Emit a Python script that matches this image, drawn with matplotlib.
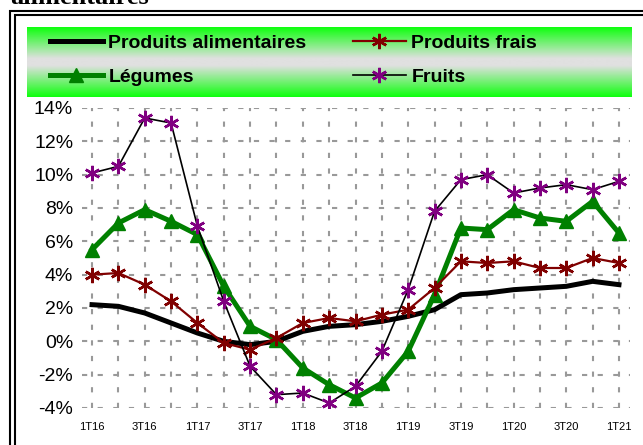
import numpy as np
import matplotlib
matplotlib.use('Agg')
import matplotlib.pyplot as plt
from matplotlib.colors import LinearSegmentedColormap
from matplotlib.patches import Rectangle
from matplotlib.ticker import FuncFormatter

#%% data (year-on-year change, %)
quarters = ['1T16', '2T16', '3T16', '4T16', '1T17', '2T17', '3T17', '4T17',
            '1T18', '2T18', '3T18', '4T18', '1T19', '2T19', '3T19', '4T19',
            '1T20', '2T20', '3T20', '4T20', '1T21']
alimentaires = [2.2, 2.1, 1.7, 1.1, 0.5, 0.0, -0.2, 0.0, 0.6, 0.9, 1.0,
                1.2, 1.5, 1.9, 2.8, 2.9, 3.1, 3.2, 3.3, 3.6, 3.4]
frais = [4.0, 4.1, 3.4, 2.4, 1.1, -0.1, -0.5, 0.2, 1.1, 1.4, 1.2,
         1.6, 1.9, 3.2, 4.8, 4.7, 4.8, 4.4, 4.4, 5.0, 4.7]
legumes = [5.5, 7.1, 7.9, 7.2, 6.4, 3.3, 0.9, 0.1, -1.6, -2.6, -3.4,
           -2.5, -0.6, 2.8, 6.8, 6.7, 7.9, 7.4, 7.2, 8.4, 6.5]
fruits = [10.1, 10.5, 13.4, 13.1, 6.9, 2.4, -1.5, -3.2, -3.1, -3.7, -2.7,
          -0.6, 3.1, 7.8, 9.7, 10.0, 8.9, 9.2, 9.4, 9.1, 9.6]
yticks = [-4, -2, 0, 2, 4, 6, 8, 10, 12, 14]

W, H = 643, 445
plt.rcParams['font.family'] = ['Liberation Sans', 'DejaVu Sans']

fig = plt.figure(figsize=(W / 100, H / 100), dpi=100)

# double frame, running off the right/bottom edges
for x0, y0 in [(10, 11), (14.5, 15)]:
    fig.patches.append(Rectangle((x0 / W, -0.1), 1.2, 1 - y0 / H + 0.1,
                                 transform=fig.transFigure, fill=False,
                                 lw=1.5, ec='black'))

# cut-off title
fig.text(10 / W, 1 - 4 / H, 'alimentaires', family='Liberation Serif',
         weight='bold', fontsize=19, va='baseline', ha='left')

# legend background with green/grey gradient
bg = fig.add_axes([26.7 / W, 1 - 97 / H, (631 - 26.7) / W, 70 / H])
cmap = LinearSegmentedColormap.from_list(
    'g', [(0, '#10ff10'), (0.45, '#e0e0e0'), (0.55, '#e0e0e0'), (1, '#10ff10')])
bg.imshow(np.linspace(0, 1, 100).reshape(-1, 1), cmap=cmap, aspect='auto',
          extent=(0, 1, 0, 1))
bg.axis('off')

#%% main plot
ax = fig.add_axes([81.5 / W, 1 - 408 / H, (629.5 - 81.5) / W, 300 / H])
x = np.arange(len(quarters))

l1, = ax.plot(x, alimentaires, color='black', lw=3.6, zorder=3)
l2, = ax.plot(x, frais, color='#800000', lw=1.6, marker=(6, 2, 0),
              ms=11, mew=1.8, zorder=4)
l3, = ax.plot(x, legumes, color='#008000', lw=3.6, marker='^',
              ms=10, zorder=3)
l4, = ax.plot(x, fruits, color='black', lw=1.2, marker=(6, 2, 0),
              ms=11, mew=1.8, mec='#800080', mfc='#800080', zorder=4)

ax.set_xlim(-0.4, 20.4)
ax.set_ylim(-4, 14)
ax.set_yticks(yticks)
ax.yaxis.set_major_formatter(FuncFormatter(lambda v, p: f'{v:.0f}%'))
ax.set_xticks(x)
ax.set_xticklabels([q if i % 2 == 0 else '' for i, q in enumerate(quarters)])
ax.tick_params(axis='y', length=0, labelsize=14, pad=6)
ax.tick_params(axis='x', length=0, labelsize=8, pad=10)
ax.grid(True, color='#999999', lw=1.5, linestyle=(0, (2.5, 5)))
ax.set_axisbelow(True)
for s in ax.spines.values():
    s.set_visible(False)
ax.patch.set_visible(False)

# legend (column-major order -> rows: alimentaires/frais, légumes/fruits)
fig.legend([l1, l3, l2, l4],
           ['Produits alimentaires', 'Légumes', 'Produits frais', 'Fruits'],
           ncol=2, frameon=False, loc='upper left',
           numpoints=1, bbox_to_anchor=(50 / W, 1 - 34 / H),
           prop={'weight': 'bold', 'size': 14},
           handlelength=2.7, handletextpad=0.3, columnspacing=2.4,
           labelspacing=0.85, borderpad=0, borderaxespad=0)

plt.savefig('out.png', dpi=100)
